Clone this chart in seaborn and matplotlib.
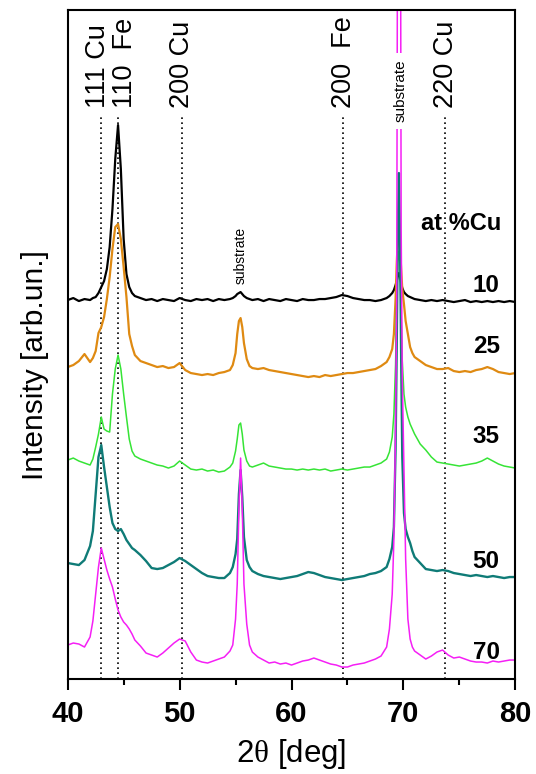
import matplotlib
matplotlib.use("Agg")
import matplotlib.pyplot as plt
import seaborn as sns
import pandas as pd

# Diffraction angle grid (deg), shared by all patterns
two_theta = [
    40.0, 40.5, 41.0, 41.5, 42.0, 42.25, 42.5, 42.75, 43.0, 43.25,
    43.5, 43.75, 44.0, 44.25, 44.5, 44.75, 45.0, 45.25, 45.5, 45.75,
    46.0, 46.5, 47.0, 47.5, 48.0, 48.5, 49.0, 49.5, 50.0, 50.5,
    51.0, 51.5, 52.0, 52.5, 53.0, 53.5, 54.0, 54.5, 54.75, 55.0,
    55.15, 55.3, 55.45, 55.6, 55.75, 56.0, 56.25, 56.5, 57.0, 57.5,
    58.0, 58.5, 59.0, 59.5, 60.0, 60.5, 61.0, 61.5, 62.0, 62.5,
    63.0, 63.5, 64.0, 64.5, 65.0, 65.5, 66.0, 66.5, 67.0, 67.5,
    68.0, 68.5, 68.75, 69.0, 69.15, 69.3, 69.4, 69.5, 69.6, 69.7,
    69.8, 69.9, 70.05, 70.2, 70.4, 70.6, 70.8, 71.0, 71.5, 72.0,
    72.5, 73.0, 73.5, 74.0, 74.5, 75.0, 75.5, 76.0, 76.5, 77.0,
    77.5, 78.0, 78.5, 79.0, 79.5, 80.0,
]

# Stacked intensities (arb. units, vertically offset per composition)
cu10 = [
    379, 381, 378, 380, 379, 381, 382, 386, 392, 398,
    410, 432, 470, 520, 554, 510, 440, 405, 392, 386,
    383, 381, 379, 380, 378, 380, 379, 378, 381, 379,
    378, 380, 379, 380, 378, 380, 379, 380, 381, 383,
    385, 386, 387, 385, 383, 381, 380, 379, 380, 378,
    380, 379, 378, 380, 379, 378, 380, 379, 379, 380,
    380, 381, 382, 384, 383, 381, 380, 379, 379, 378,
    379, 381, 383, 386, 389, 394, 398, 403, 406, 402,
    396, 391, 387, 385, 383, 382, 381, 380, 379, 378,
    379, 378, 379, 378, 377, 378, 379, 377, 378, 377,
    378, 377, 378, 377, 378, 377,
]
cu25 = [
    312, 314, 318, 325, 317, 321, 328, 346, 352, 362,
    380, 402, 430, 452, 455, 440, 412, 382, 345, 333,
    324, 318, 316, 314, 312, 313, 311, 312, 316, 309,
    306, 305, 304, 305, 304, 306, 307, 309, 314, 326,
    345, 358, 361, 352, 336, 320, 313, 311, 310, 311,
    309, 308, 307, 306, 305, 304, 303, 302, 303, 302,
    304, 303, 304, 305, 306, 306, 307, 308, 309, 310,
    313, 317, 322, 330, 345, 380, 415, 440, 445, 432,
    410, 390, 375, 358, 345, 332, 326, 322, 318, 314,
    312, 310, 310, 311, 308, 307, 308, 307, 309, 310,
    312, 310, 307, 306, 305, 306,
]
cu35 = [
    219, 221, 218, 216, 214, 220, 232, 245, 262, 250,
    248, 247, 285, 310, 324, 310, 285, 262, 240, 228,
    223, 220, 218, 216, 214, 213, 211, 213, 218, 214,
    210, 209, 210, 208, 209, 207, 208, 212, 216, 228,
    240, 254, 256, 245, 229, 218, 213, 212, 214, 216,
    213, 212, 211, 210, 210, 209, 210, 209, 210, 209,
    210, 208, 209, 210, 209, 210, 211, 212, 212, 214,
    216, 220, 227, 242, 265, 315, 375, 418, 428, 412,
    365, 318, 285, 272, 262, 255, 250, 245, 235, 229,
    222, 217, 216, 215, 214, 213, 214, 215, 216, 218,
    221, 218, 215, 213, 212, 211,
]
cu50 = [
    116, 115, 114, 119, 133, 148, 185, 222, 234, 212,
    192, 172, 156, 150, 148, 150, 145, 139, 135, 131,
    129, 124, 118, 111, 110, 111, 114, 117, 121, 118,
    114, 110, 106, 103, 102, 101, 101, 106, 112, 125,
    140, 185, 209, 182, 142, 119, 112, 108, 105, 103,
    102, 101, 100, 101, 102, 103, 105, 107, 106, 104,
    102, 101, 100, 99, 100, 101, 102, 103, 105, 106,
    108, 112, 120, 132, 152, 230, 330, 450, 506, 440,
    320, 222, 166, 150, 142, 136, 128, 122, 116, 110,
    109, 108, 109, 108, 106, 105, 104, 103, 104, 103,
    102, 103, 102, 101, 102, 102,
]
cu70 = [
    34, 36, 35, 32, 42, 58, 85, 112, 131, 120,
    109, 100, 92, 80, 69, 62, 57, 54, 50, 45,
    39, 33, 26, 24, 22, 26, 31, 36, 40, 38,
    27, 19, 17, 16, 18, 20, 22, 28, 34, 60,
    95, 170, 221, 170, 95, 55, 34, 27, 22, 19,
    16, 17, 15, 16, 14, 16, 18, 19, 21, 19,
    17, 15, 14, 12, 12, 14, 15, 16, 18, 20,
    23, 32, 50, 85, 140, 250, 380, 900, 1500, 1000,
    450, 300, 210, 120, 60, 40, 32, 28, 24, 20,
    23, 27, 29, 24, 21, 22, 20, 18, 17, 17,
    16, 18, 17, 18, 19, 19,
]

compositions = ["10", "25", "35", "50", "70"]

# Reference reflections (deg) and their labels
reflection_pos = [42.95, 44.5, 50.2, 64.6, 73.7]
reflection_text = ["111 Cu", "110  Fe", "200 Cu", "200  Fe", "220 Cu"]

# ---- styling ----
sns.set_theme(style="ticks")
plt.rcParams["font.family"] = ["Liberation Sans", "DejaVu Sans"]
plt.rcParams["mathtext.fontset"] = "custom"
plt.rcParams["mathtext.rm"] = "Liberation Serif"
plt.rcParams["text.color"] = "black"
plt.rcParams["axes.labelcolor"] = "black"
plt.rcParams["xtick.color"] = "black"

palette = dict(zip(compositions, ["#000000", "#DF8A12", "#36E436", "#0F7B77", "#F51FF5"]))
widths = dict(zip(compositions, [1.6, 1.6, 1.1, 1.7, 1.1]))

df = pd.DataFrame({"two_theta": two_theta, "10": cu10, "25": cu25,
                   "35": cu35, "50": cu50, "70": cu70})
long = df.melt(id_vars="two_theta", var_name="at_cu", value_name="intensity")

fig = plt.figure(figsize=(5.36, 7.74), dpi=100)
ax = fig.add_axes([0.1263, 0.1227, 0.8351, 0.8643])

# dotted markers of the reference reflections
for xpos, txt, dx in zip(reflection_pos, reflection_text, [-0.25, 0.6, 0.0, 0.1, 0.15]):
    ax.plot([xpos, xpos], [0, 565], color="black", lw=1.2,
            linestyle=(0, (1, 2)), zorder=1)
    ax.text(xpos + dx, 571, txt, rotation=90, ha="center", va="bottom",
            fontsize=19.5, color="black")

sns.lineplot(data=long, x="two_theta", y="intensity", hue="at_cu",
             hue_order=compositions, palette=palette, size="at_cu",
             size_order=compositions, sizes=widths, estimator=None,
             sort=False, legend=False, ax=ax, zorder=2)

# substrate reflections
ax.text(55.45, 395, "substrate", rotation=90, ha="center", va="bottom",
        fontsize=10, zorder=4)
ax.text(69.72, 557, "substrate", rotation=90, ha="center", va="bottom",
        fontsize=11, zorder=4,
        bbox=dict(boxstyle="square,pad=0.45", facecolor="white", edgecolor="none"))

# composition labels
ax.text(78.72, 449, "at %Cu", ha="right", va="baseline", fontsize=17,
        fontweight="bold", zorder=4)
for comp, yb in zip(compositions, [387, 326, 236, 111, 20]):
    ax.text(78.6, yb, comp, ha="right", va="baseline", fontsize=17.5,
            fontweight="bold", zorder=4)

ax.set_xlim(40, 80)
ax.set_ylim(0, 669)
ax.set_xticks([40, 50, 60, 70, 80])
ax.set_xticks([45, 55, 65, 75], minor=True)
ax.set_yticks([])
ax.tick_params(axis="x", which="major", length=8, width=1.5, direction="out",
               pad=7, labelsize=21, colors="black")
ax.tick_params(axis="x", which="minor", length=4.5, width=1.5, direction="out")
for lab in ax.get_xticklabels():
    lab.set_fontweight("bold")
for sp in ax.spines.values():
    sp.set_linewidth(1.5)
    sp.set_color("black")

ax.set_xlabel("2$\\mathrm{\\theta}$ [deg]", fontsize=22.5, color="black")
ax.set_ylabel("Intensity [arb.un.]", fontsize=21.5, color="black")
ax.xaxis.set_label_coords(0.5, -0.086)
ax.yaxis.set_label_coords(-0.042, 0.47)

fig.savefig("out.png", dpi=100, facecolor="white")
